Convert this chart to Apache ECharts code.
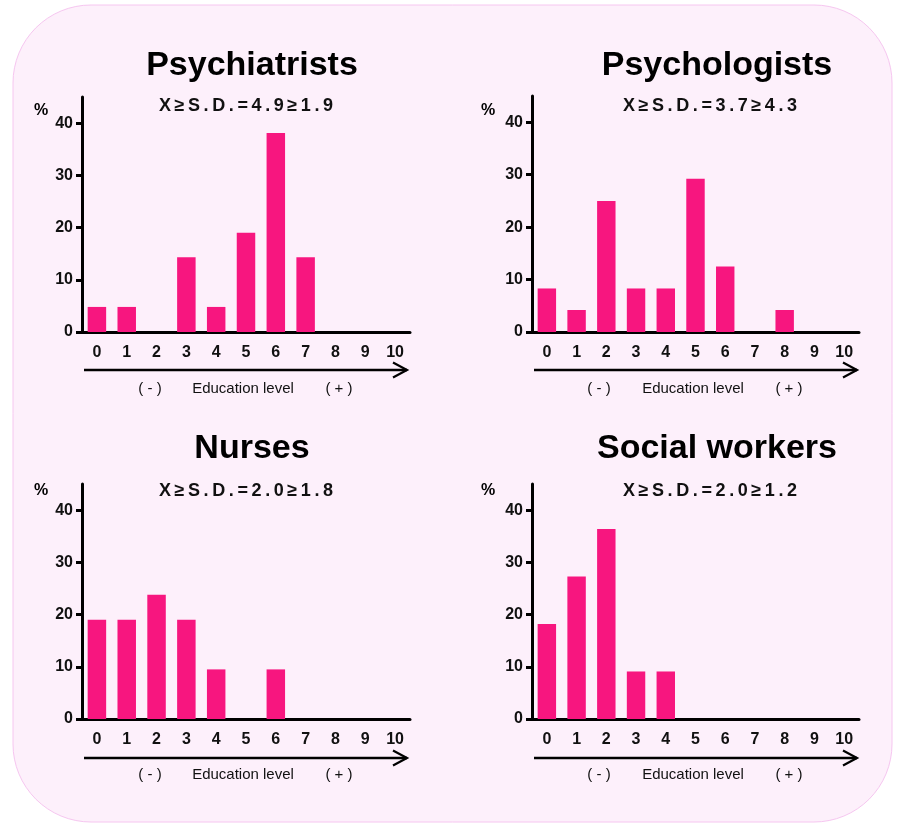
<!DOCTYPE html>
<html>
<head>
<meta charset="utf-8">
<title>Education level</title>
<script src="https://cdn.jsdelivr.net/npm/echarts@6/dist/echarts.min.js"></script>
<style>
  html, body { margin: 0; padding: 0; background: #fff; }
  #chart { width: 898px; height: 825px; }
</style>
</head>
<body>
<div id="chart"></div>
<script>
const categories = ['0', '1', '2', '3', '4', '5', '6', '7', '8', '9', '10'];
const yTicks = [0, 10, 20, 30, 40];
const psychiatrists = [4.8, 4.8, 0, 14.3, 4.8, 19.0, 38.1, 14.3, 0, 0, 0];
const psychologists = [8.3, 4.2, 25.0, 8.3, 8.3, 29.2, 12.5, 0, 4.2, 0, 0];
const nurses = [19.0, 19.0, 23.8, 19.0, 9.5, 0, 9.5, 0, 0, 0, 0];
const socialWorkers = [18.2, 27.3, 36.4, 9.1, 9.1, 0, 0, 0, 0, 0, 0];
const titles = ['Psychiatrists', 'Psychologists', 'Nurses', 'Social workers'];
const subtitles = ['X≥S.D.=4.9≥1.9', 'X≥S.D.=3.7≥4.3', 'X≥S.D.=2.0≥1.8', 'X≥S.D.=2.0≥1.2'];
const axisCaption = ['( - )', 'Education level', '( + )'];

const font = '"Liberation Sans", Arial, sans-serif';
const barColor = '#f7167f';

// layout of the four panels
const panels = [
  { data: psychiatrists, left: 82, top: 97, width: 328, height: 235, titleX: 252, titleY: 66, subX: 246, subY: 106, pctX: 41, pctY: 111, arrowY: 370, arrowX0: 84, arrowX1: 407, capY: 389, capX: [150, 243, 339] },
  { data: psychologists, left: 532, top: 96, width: 327, height: 236, titleX: 717, titleY: 66, subX: 710, subY: 106, pctX: 488, pctY: 111, arrowY: 370, arrowX0: 534, arrowX1: 857, capY: 389, capX: [599, 693, 789] },
  { data: nurses, left: 82, top: 484, width: 328, height: 235, titleX: 252, titleY: 449, subX: 246, subY: 491, pctX: 41, pctY: 491, arrowY: 758, arrowX0: 84, arrowX1: 407, capY: 775, capX: [150, 243, 339] },
  { data: socialWorkers, left: 532, top: 484, width: 327, height: 235, titleX: 717, titleY: 449, subX: 710, subY: 491, pctX: 488, pctY: 491, arrowY: 758, arrowX0: 534, arrowX1: 857, capY: 775, capX: [599, 693, 789] }
];

const spaced = (s) => s.split('').join('\u2009');

const chart = echarts.init(document.getElementById('chart'));

const graphic = [{
  type: 'rect',
  z: -10,
  shape: { x: 13, y: 5, width: 879, height: 817, r: 78 },
  style: { fill: '#fdf0fb', stroke: '#f6c6f0', lineWidth: 1 }
}];

panels.forEach((p, i) => {
  graphic.push({
    type: 'text', x: p.titleX, y: p.titleY,
    style: { text: titles[i], font: 'bold 34px ' + font, fill: '#000', textAlign: 'center', textVerticalAlign: 'middle' }
  });
  graphic.push({
    type: 'text', x: p.subX, y: p.subY,
    style: { text: spaced(subtitles[i]), font: 'bold 18px ' + font, fill: '#111', textAlign: 'center', textVerticalAlign: 'middle' }
  });
  graphic.push({
    type: 'text', x: p.pctX, y: p.pctY,
    style: { text: '%', font: 'bold 16px ' + font, fill: '#000', textAlign: 'center', textVerticalAlign: 'middle' }
  });
  graphic.push({
    type: 'polyline',
    shape: { points: [[p.arrowX0, p.arrowY], [p.arrowX1, p.arrowY]] },
    style: { stroke: '#000', lineWidth: 2.5, fill: null }
  });
  graphic.push({
    type: 'polyline',
    shape: { points: [[p.arrowX1 - 14, p.arrowY - 7.5], [p.arrowX1, p.arrowY], [p.arrowX1 - 14, p.arrowY + 7.5]] },
    style: { stroke: '#000', lineWidth: 2.2, fill: null }
  });
  axisCaption.forEach((c, k) => {
    graphic.push({
      type: 'text', x: p.capX[k], y: p.capY,
      style: { text: c, font: '15px ' + font, fill: '#111', textAlign: 'center', textVerticalAlign: 'middle' }
    });
  });
});

chart.setOption({
  animation: false,
  backgroundColor: '#fff',
  graphic: graphic,
  grid: panels.map(p => ({ left: p.left, top: p.top, width: p.width, height: p.height, containLabel: false })),
  xAxis: panels.map((p, i) => ({
    type: 'category',
    gridIndex: i,
    data: categories,
    boundaryGap: true,
    axisLine: { lineStyle: { color: '#000', width: 3 } },
    axisTick: { alignWithLabel: true, length: 6, lineStyle: { color: '#000', width: 3 } },
    axisLabel: { color: '#111', fontFamily: font, fontWeight: 'bold', fontSize: 16, margin: 13, interval: 0 },
    splitLine: { show: false }
  })),
  yAxis: panels.map((p, i) => ({
    type: 'value',
    gridIndex: i,
    min: 0,
    max: 45,
    interval: 10,
    axisLine: { show: true, lineStyle: { color: '#000', width: 3 } },
    axisTick: { show: true, length: 6, customValues: yTicks, lineStyle: { color: '#000', width: 3 } },
    axisLabel: { color: '#111', fontFamily: font, fontWeight: 'bold', fontSize: 16, margin: 9, customValues: yTicks },
    splitLine: { show: false }
  })),
  series: panels.map((p, i) => ({
    type: 'bar',
    xAxisIndex: i,
    yAxisIndex: i,
    data: p.data,
    barWidth: '62%',
    itemStyle: { color: barColor }
  }))
});
</script>
</body>
</html>
